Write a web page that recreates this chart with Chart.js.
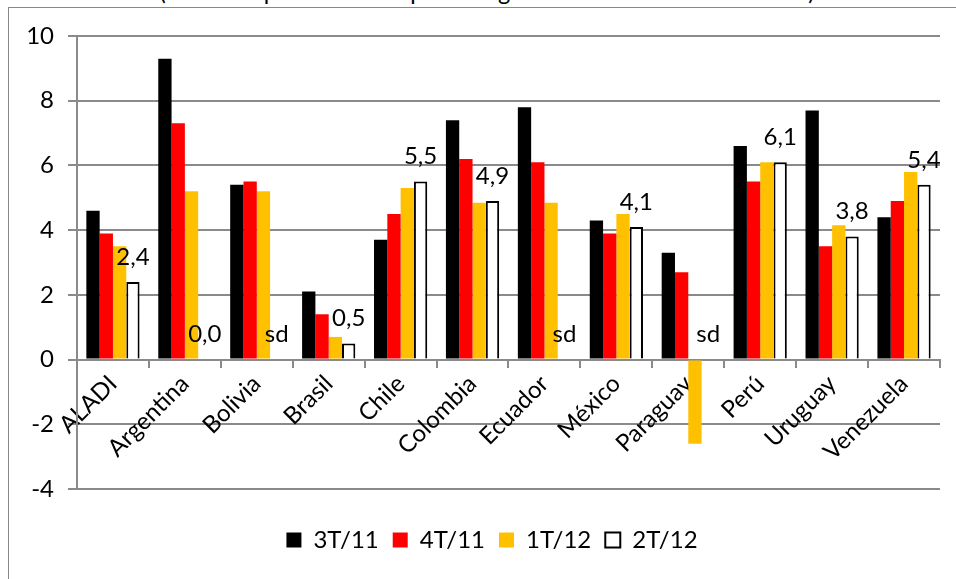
<!DOCTYPE html>
<html>
<head>
<meta charset="utf-8">
<script src="https://cdn.jsdelivr.net/npm/chart.js@4/dist/chart.umd.min.js"></script>
<style>
  body { margin: 0; background: #fff; }
  #wrap { position: relative; width: 956px; height: 579px; overflow: hidden; }
  #title { position: absolute; left: 0; width: 974px; top: -20px; text-align: center;
           font: 23.5px Lato; line-height: 23px; color: #000; white-space: nowrap; }
  #frame { position: absolute; left: 8px; top: 7px; width: 1200px; height: 800px;
           border-left: 1px solid #888; border-top: 1px solid #888; }
  #c { position: absolute; left: 0; top: 0; }
</style>
</head>
<body>
<div id="wrap">
  <div id="title">(variación porcentual respecto a igual trimestre del año anterior)</div>
  <div id="frame"></div>
  <canvas id="c" width="956" height="579"></canvas>
</div>
<script>
// Values; null = "sd" (sin datos).
const categories = ["ALADI", "Argentina", "Bolivia", "Brasil", "Chile", "Colombia",
  "Ecuador", "México", "Paraguay", "Perú", "Uruguay", "Venezuela"];
const seriesNames = ["3T/11", "4T/11", "1T/12", "2T/12"];
const q3_11 = [4.6, 9.3, 5.4, 2.1, 3.7, 7.4, 7.8, 4.3, 3.3, 6.6, 7.7, 4.4];
const q4_11 = [3.9, 7.3, 5.5, 1.4, 4.5, 6.2, 6.1, 3.9, 2.7, 5.5, 3.5, 4.9];
const q1_12 = [3.5, 5.2, 5.2, 0.7, 5.3, 4.85, 4.85, 4.5, -2.6, 6.1, 4.15, 5.8];
const q2_12 = [2.4, 0, null, 0.5, 5.5, 4.9, null, 4.1, null, 6.1, 3.8, 5.4];
const yMin = -4, yMax = 10, yStep = 2;

const FONT = "Lato";
const FSIZE = 24;
const GRID = "#8a8a8a";
const LEGEND_GAP = 28;   // extra room between plot and legend
const LEGEND_DROP = 25;  // how far the legend items are pushed back down
const LEGEND_SHIFT = 15; // legend sits a bit right of centre in the original

// labels above the 2T/12 bars ("sd" where there is no data)
const valueLabels = {
  id: "valueLabels",
  afterDatasetsDraw(chart) {
    const ctx = chart.ctx;
    const meta = chart.getDatasetMeta(3);
    const xs = chart.scales.x, ys = chart.scales.y;
    const shift = meta.data[0].x - xs.getPixelForValue(0);
    ctx.save();
    ctx.font = FSIZE + "px " + FONT;
    ctx.fillStyle = "#000";
    ctx.textAlign = "center";
    ctx.textBaseline = "middle";
    q2_12.forEach((v, i) => {
      const x = xs.getPixelForValue(i) + shift;
      const top = ys.getPixelForValue(v === null ? 0 : v);
      const txt = v === null ? "sd" : v.toFixed(1).replace(".", ",");
      ctx.fillText(txt, x, top - 25);
    });
    ctx.restore();
  },
};

// make the legend box taller so the plot ends higher, then push the items down again
const legendGap = {
  id: "legendGap",
  beforeInit(chart) {
    const fit = chart.legend.fit;
    chart.legend.fit = function () {
      fit.bind(chart.legend)();
      this.height += LEGEND_GAP;
    };
  },
  afterLayout(chart) {
    const lg = chart.legend;
    lg.top += LEGEND_DROP;
    lg.left += LEGEND_SHIFT;
    lg.right += LEGEND_SHIFT;
  },
};

new Chart(document.getElementById("c"), {
  type: "bar",
  data: {
    labels: categories,
    datasets: [
      { label: seriesNames[0], data: q3_11, backgroundColor: "#000000", borderWidth: 0 },
      { label: seriesNames[1], data: q4_11, backgroundColor: "#ff0000", borderWidth: 0 },
      { label: seriesNames[2], data: q1_12, backgroundColor: "#ffc000", borderWidth: 0 },
      { label: seriesNames[3], data: q2_12, backgroundColor: "#ffffff",
        borderColor: "#000000", borderWidth: 2 },
    ],
  },
  options: {
    responsive: false,
    animation: false,
    categoryPercentage: 0.74,
    barPercentage: 1,
    layout: { padding: { left: 14, right: 16, top: 36, bottom: 14 } },
    plugins: {
      title: { display: false },
      tooltip: { enabled: false },
      legend: {
        position: "bottom",
        labels: {
          font: { family: FONT, size: FSIZE },
          color: "#000",
          boxWidth: 15,
          boxHeight: 15,
          padding: 14,
        },
      },
    },
    scales: {
      x: {
        position: { y: 0 },
        grid: { drawOnChartArea: false, offset: true, tickLength: 7, color: GRID, lineWidth: 2 },
        border: { color: GRID, width: 2 },
        ticks: { font: { family: FONT, size: FSIZE }, color: "#000", maxRotation: 45, minRotation: 45,
                 padding: 3 },
      },
      y: {
        min: yMin, max: yMax,
        grid: { color: GRID, lineWidth: 2, tickLength: 9 },
        border: { color: GRID, width: 2 },
        ticks: { stepSize: yStep, font: { family: FONT, size: FSIZE }, color: "#000", padding: 14 },
        afterFit: (s) => { s.width = 63; },
      },
    },
  },
  plugins: [valueLabels, legendGap],
});
</script>
</body>
</html>
